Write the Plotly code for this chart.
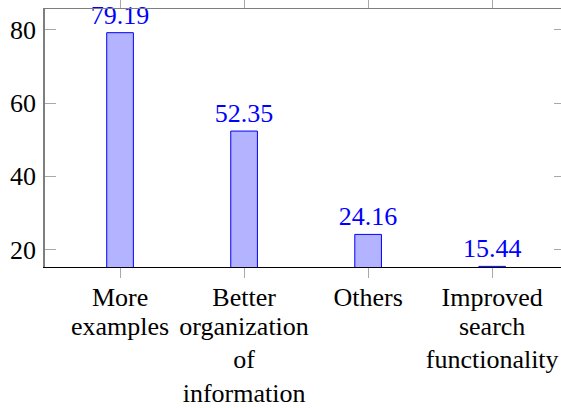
import plotly.graph_objects as go

categories = ["More<br>examples", "Better<br>organization<br>of<br>information",
              "Others", "Improved<br>search<br>functionality"]
values = [79.19, 52.35, 24.16, 15.44]
y_ticks = [20, 40, 60, 80]

FONT = "Liberation Serif, Times New Roman, Times, serif"
FS = 26
positions = list(range(len(categories)))
label_lines = [c.split("<br>") for c in categories]
n_lines = max(len(l) for l in label_lines)

fig = go.Figure()
fig.add_trace(go.Bar(
    x=positions, y=values, width=0.215,
    marker=dict(color="rgb(179,179,255)", line=dict(color="blue", width=1)),
    text=[f"{v:.2f}" for v in values], textposition="outside",
    textfont=dict(color="blue", size=FS, family=FONT),
    constraintext="none", cliponaxis=False, showlegend=False,
))


def ghost(xa, ya):
    # invisible helper trace so that an overlaying axis gets drawn
    return go.Scatter(x=positions, y=values, xaxis=xa, yaxis=ya, mode="markers",
                      marker=dict(opacity=0), hoverinfo="skip", showlegend=False)


GRAY_LINE = "#7f7f7f"
GRAY_TICK = "#a8a8a8"

layout = dict(
    width=561, height=408,
    margin=dict(l=45, r=0, t=9, b=141),
    paper_bgcolor="white", plot_bgcolor="white",
    font=dict(family=FONT, size=FS, color="black"),
    showlegend=False,
    xaxis=dict(range=[-0.605, 3.555], tickvals=positions, showticklabels=False,
               ticks="outside", ticklen=10, tickcolor=GRAY_TICK, tickwidth=1,
               showline=True, linecolor="black", linewidth=1.2,
               showgrid=False, zeroline=False),
    xaxis2=dict(overlaying="x", matches="x", side="top", anchor="y",
                tickvals=positions, showticklabels=False,
                ticks="outside", ticklen=10, tickcolor=GRAY_TICK, tickwidth=1,
                showline=True, linecolor=GRAY_LINE, linewidth=1.3,
                showgrid=False, zeroline=False),
    yaxis=dict(range=[15.27, 85.65], tickvals=y_ticks, ticks="inside", ticklen=11,
               tickcolor=GRAY_TICK, tickwidth=1, showline=True, linecolor=GRAY_LINE,
               linewidth=1.6, showgrid=False, zeroline=False,
               tickfont=dict(size=FS, color="black", family=FONT), ticklabelstandoff=2),
    yaxis2=dict(overlaying="y", matches="y", side="right", anchor="x",
                tickvals=y_ticks, showticklabels=False, ticks="inside", ticklen=7,
                tickcolor=GRAY_TICK, tickwidth=1, showline=False,
                showgrid=False, zeroline=False),
)
fig.add_trace(ghost("x2", "y"))
fig.add_trace(ghost("x", "y2"))

# per-line standoffs (px) for the multi-line category labels
line_standoffs = [12, 41, 74, 108]
for i in range(n_lines):
    texts = [l[i] if i < len(l) else "" for l in label_lines]
    layout[f"xaxis{i + 3}"] = dict(
        overlaying="x", matches="x", side="bottom", anchor="y",
        tickvals=positions, ticktext=texts, ticks="", showline=False,
        showgrid=False, zeroline=False, tickangle=0,
        tickfont=dict(size=FS, color="black", family=FONT),
        ticklabelstandoff=line_standoffs[i],
    )
    fig.add_trace(ghost(f"x{i + 3}", "y"))

fig.update_layout(**layout)
fig.write_html("out.html", config={"displayModeBar": False},
               post_script="document.body.style.margin='0';")
